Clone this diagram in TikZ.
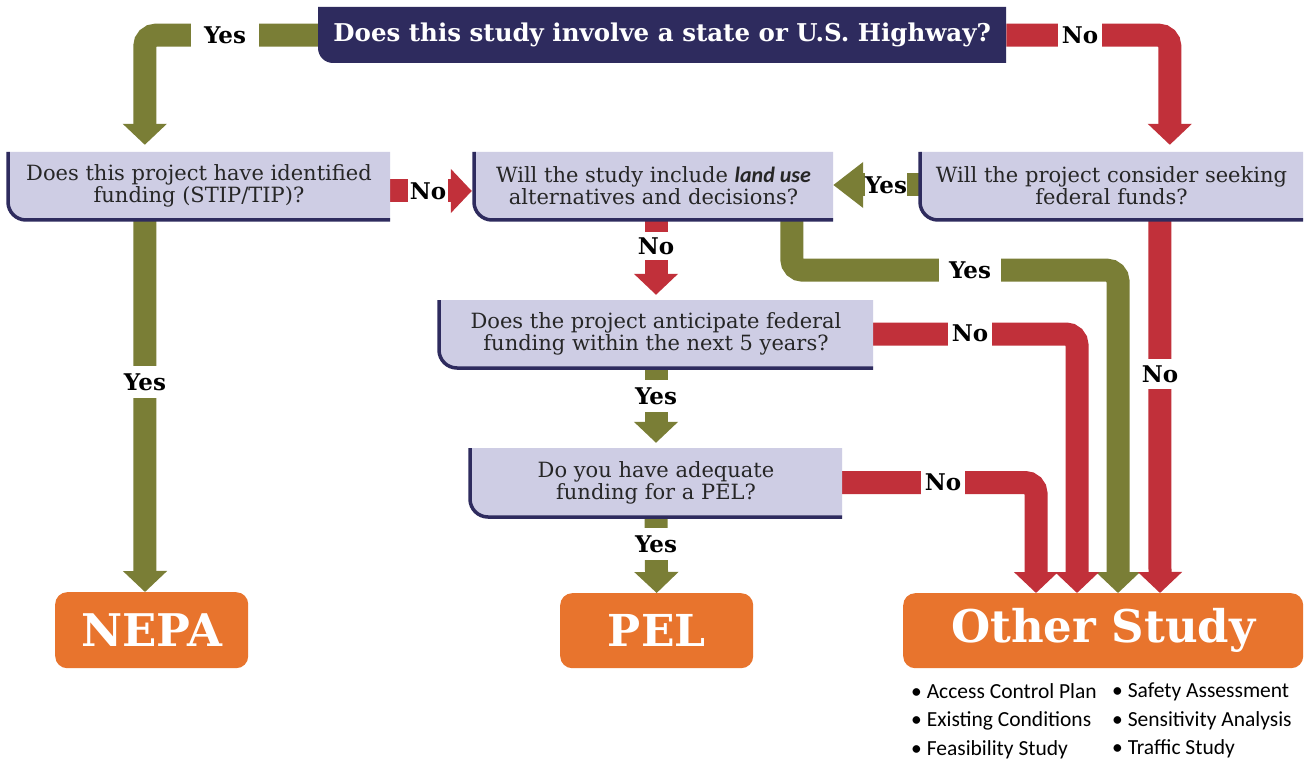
\documentclass[tikz,border=0pt]{standalone}
\usepackage{fontspec}
\setmainfont{DejaVu Serif}
\newfontfamily\carl{Carlito}
\usetikzlibrary{arrows.meta,calc}
\definecolor{navy}{HTML}{2E2B5E}
\definecolor{lav}{HTML}{CECDE4}
\definecolor{olive}{HTML}{7A7E36}
\definecolor{brick}{HTML}{C1303A}
\definecolor{orng}{HTML}{E8742D}
\pgfdeclarelayer{bg}
\pgfsetlayers{bg,main}
\tikzset{
  qtext/.style={inner sep=0pt, align=center, text=black!85,
    font=\fontsize{21}{22}\selectfont},
  obox/.style={fill=orng, rounded corners=12pt, text=white, inner sep=0pt,
    anchor=north west},
  conn/.style={line width=23pt, rounded corners=11pt,
    -{Triangle[width=43pt,length=21pt]}},
  yesarrow/.style={conn, draw=olive},
  noarrow/.style={conn, draw=brick},
  lbl/.style={fill=white, text=black, inner xsep=4pt, inner ysep=0pt,
    minimum height=28pt, minimum width=28pt,
    font=\bfseries\fontsize{23}{23}\selectfont},
  bul/.style={inner sep=0pt, align=left, anchor=north west,
    font=\carl\fontsize{21.5}{28.5}\selectfont}
}
% name, x1, y1, x2, y2 (pixel coords, y downward), text
\newcommand{\qbox}[6]{%
  \fill[lav] (#2,-#3) -- (#4,-#3) -- (#4,-#5) -- (#2+18,-#5)
    arc[start angle=270,end angle=180,radius=18] -- cycle;
  \draw[navy, line width=3.5pt] (#2,-#3) -- (#2,-#5+18)
    arc[start angle=180,end angle=270,radius=18] -- (#4,-#5);
  \node[qtext, minimum width={#4-#2}, minimum height={#5-#3}] (#1)
    at ({(#2+#4)/2},{-(#3+#5)/2}) {#6};
}
\begin{document}
\begin{tikzpicture}[x=1pt,y=1pt]
\useasboundingbox (0,0) rectangle (1315,-762);
\begin{pgfonlayer}{bg}
\fill[white] (0,0) rectangle (1315,-762);
\end{pgfonlayer}

% top question
\fill[navy] (318,-7) -- (1006,-7) -- (1006,-63) -- (333,-63)
  arc[start angle=270,end angle=180,radius=15] -- cycle;
\node[inner sep=0pt, minimum width=688, minimum height=56, anchor=north west,
  text=white, font=\bfseries\fontsize{24.5}{24.5}\selectfont] (T) at (318,-7)
  {Does this study involve a state or U.S. Highway?};

\qbox{A}{8}{152}{390}{220}{Does this project have identified\\funding (STIP/TIP)?}
\qbox{B}{474}{152}{833}{220}{Will the study include {\carl\bfseries\itshape\fontsize{22}{22}\selectfont land use}\\alternatives and decisions?}
\qbox{C}{920}{152}{1303}{220}{Will the project consider seeking\\federal funds?}
\qbox{D}{439}{300}{873}{368}{Does the project anticipate federal\\funding within the next 5 years?}
\qbox{E}{470}{448}{842}{517}{Do you have adequate\\funding for a PEL?}

\node[obox, minimum width=193, minimum height=76,
  font=\bfseries\fontsize{45}{45}\selectfont] (NEPA) at (55,-592) {NEPA};
\node[obox, minimum width=193, minimum height=75,
  font=\bfseries\fontsize{44}{44}\selectfont] (PEL) at (560,-593) {PEL};
\node[obox, minimum width=400, minimum height=75,
  font=\bfseries\fontsize{45}{45}\selectfont] (OS) at (903,-593) {Other Study};

\begin{pgfonlayer}{bg}
\draw[yesarrow, shorten >=7pt] (T.west) -| ([xshift=137pt]A.north west);
\draw[noarrow, shorten >=7pt] (T.east) -| ([xshift=250pt]C.north west);
\draw[noarrow, shorten >=2pt] ([yshift=-5pt]A.east) -- ([yshift=-5pt]B.west);
\draw[yesarrow, -{Triangle[width=44pt,length=30pt]}] ([yshift=1pt]C.west) -- ([yshift=1pt]B.east);
\draw[noarrow, shorten >=5pt] (D.north |- B.south) -- (D.north);
\draw[yesarrow] ([xshift=318pt]B.south west) -- ++(0,-50) -| ([xshift=215pt]OS.north west);
\draw[noarrow] ([xshift=240pt]C.south west) -- ([xshift=257pt]OS.north west);
\draw[noarrow] (D.east) -| ([xshift=174pt]OS.north west);
\draw[yesarrow, shorten >=5pt] (D.south) -- (E.north);
\draw[noarrow] (E.east) -| ([xshift=133pt]OS.north west);
\draw[yesarrow] (E.south) -- (PEL.north);
\draw[yesarrow] ([xshift=137pt]A.south west) -- ([xshift=90pt]NEPA.north west);
\end{pgfonlayer}

% labels
\node[lbl, inner xsep=13pt] (l1) at (225,-35) {Yes};
\node[lbl] (l2) at (1080,-35) {No};
\node[lbl, inner xsep=2pt] (l3) at (428,-191) {No};
\node[lbl, inner xsep=0pt] (l4) at (886,-185) {Yes};
\node[lbl] (l5) at (656,-246) {No};
\node[lbl, inner xsep=10pt] (l6) at (970,-270) {Yes};
\node[lbl, minimum height=30pt] (l7) at (1160,-374) {No};
\node[lbl] (l8) at (970,-333) {No};
\node[lbl, minimum height=32pt] (l9) at (656,-396) {Yes};
\node[lbl] (l10) at (943,-482) {No};
\node[lbl, minimum height=32pt] (l11) at (656,-544) {Yes};
\node[lbl, minimum height=32pt] (l12) at (145,-382) {Yes};

% study list
\node[bul] (L1) at (911,-683) {• Access Control Plan\\• Existing Conditions\\• Feasibility Study};
\node[bul] (L2) at (1112,-683) {• Safety Assessment\\• Sensitivity Analysis\\• Traffic Study};
\end{tikzpicture}
\end{document}
